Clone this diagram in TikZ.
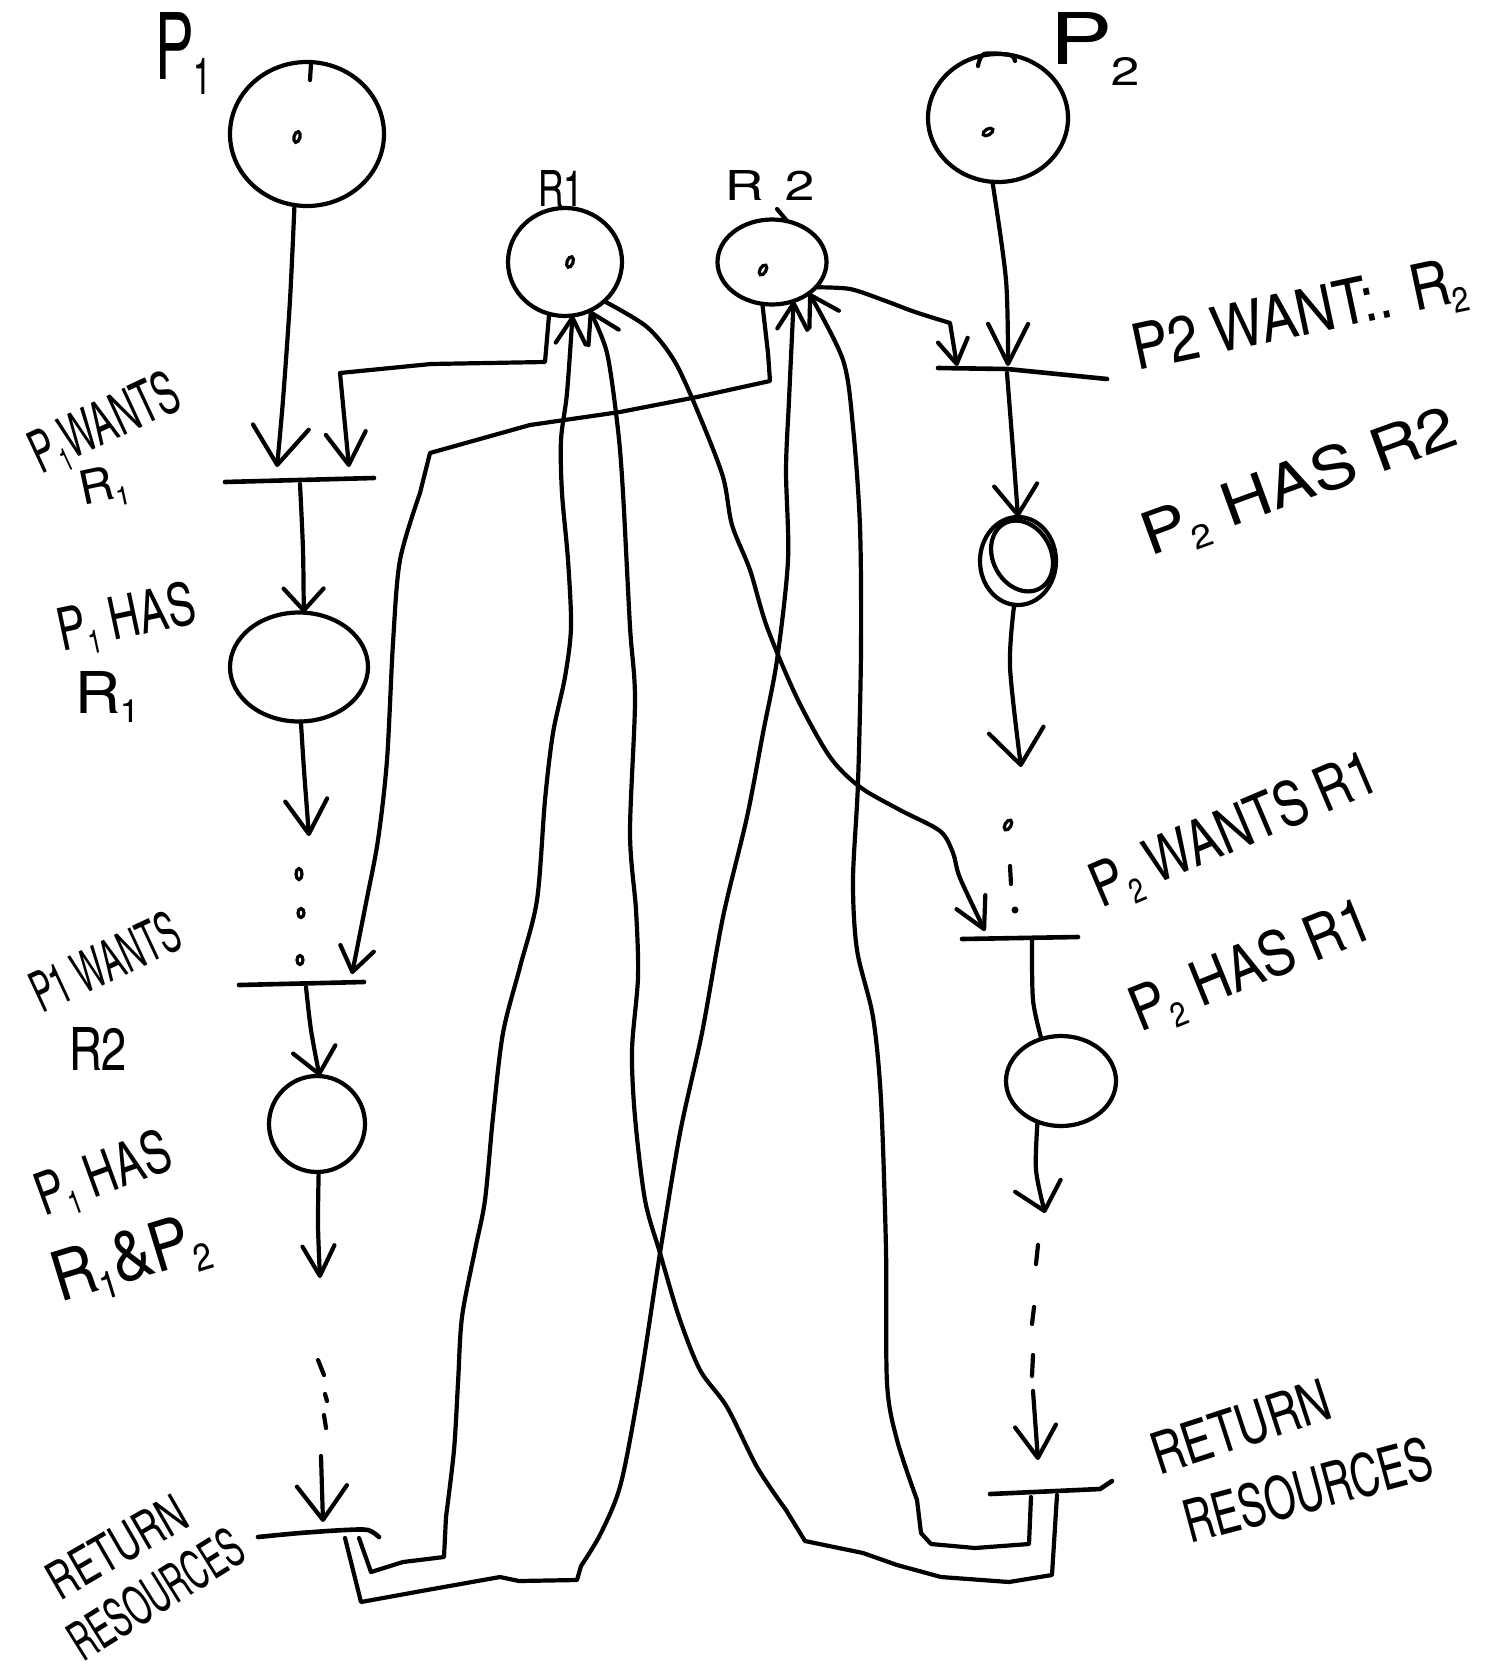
\documentclass[tikz,border=0pt]{standalone}
\usepackage{fontspec}
\setmainfont{texgyreheroscn-regular.otf}
\usepackage{graphicx}
\usetikzlibrary{arrows.meta,shapes.geometric}

% lowered small index, as in P_1
\newcommand\lowsub[1]{\raisebox{-0.16em}{\fontsize{22}{24}\selectfont #1}}
% a hand-lettered word: width, cap height, text
\newcommand\hand[3]{\resizebox{#1pt}{#2pt}{\fontsize{40}{44}\selectfont #3}}

\tikzset{
  ink/.style={line width=4.2pt, line cap=round, line join=round},
  place/.style={ellipse, draw, ink, inner sep=0pt, outer sep=0pt},
  token/.style={ellipse, draw, line width=3.2pt, inner sep=0pt, minimum width=6pt, minimum height=11pt},
  bar/.style={line width=4.6pt, line cap=round, line join=round},
  vtip/.style 2 args={-{Straight Barb[length=#1pt, width=#2pt, round]}},
  lbl/.style={inner sep=0pt, outer sep=0pt},
}

\begin{document}
\begin{tikzpicture}[x=1pt,y=-1pt]
\fill[white] (0,0) rectangle (1488,1670);
\useasboundingbox (0,0) rectangle (1488,1670);

% ---------- places ----------
\node[place, minimum width=154pt, minimum height=144pt] (p1) at (307,134) {};
\node[place, minimum width=114pt, minimum height=108pt] (r1) at (565,262) {};
\node[place, minimum width=109pt, minimum height=85pt] (r2) at (772,262) {};
\node[place, minimum width=140pt, minimum height=128pt] (p2) at (998,118) {};
\node[place, minimum width=138pt, minimum height=109pt] (a1) at (299,667) {};
\node[place, minimum width=96pt, minimum height=96pt] (a2) at (317,1124) {};
\node[place, minimum width=76pt, minimum height=88pt] (b1) at (1018,561) {};
\node[place, minimum width=58pt, minimum height=74pt, rotate=28] (b1loop) at (1022,556) {};
\node[place, minimum width=110pt, minimum height=90pt] (b2) at (1061,1081) {};

% stroke overlaps on the place outlines
\draw[ink] plot[smooth] coordinates {(978,66) (984,54) (1010,55) (1015,61)};
\draw[ink] (777,209) -- (787,221);
\draw[ink] (311,64) -- (310,80);

% ---------- tokens and marks ----------
\node[token, rotate=-15] (p1tok) at (297,137) {};
\node[token, rotate=-20] (r1tok) at (570,262) {};
\node[token, rotate=-30] (r2tok) at (763,270) {};
\node[token, rotate=-60] (p2tok) at (988,132) {};
\node[token] (m1) at (299,874) {};
\node[token, minimum height=9pt] (m2) at (301,913) {};
\node[token, minimum height=9pt] (m3) at (300,960) {};
\node[token, rotate=-30] (m4) at (1008,825) {};
\draw[ink] (1010,866) -- (1011,884);
\node[fill, circle, inner sep=0pt, minimum size=7pt] (m5) at (1015,910) {};

\draw[ink] (318,1360) -- (324,1375);
\draw[ink] (325,1394) -- (327,1401);
\draw[ink] (324,1415) -- (326,1428);
\draw[ink] (1038,1245) -- (1036,1264);
\draw[ink] (1034,1307) -- (1032,1324);
\draw[ink] (1033,1355) -- (1032,1376);

% ---------- transitions ----------
\coordinate (t1w) at (225,482); \coordinate (t1e) at (374,478);
\coordinate (t5w) at (239,985); \coordinate (t5e) at (364,982);
\coordinate (t6w) at (258,1537); \coordinate (t6e) at (379,1537);
\coordinate (t2w) at (938,368); \coordinate (t2e) at (1107,379);
\coordinate (t3w) at (962,939); \coordinate (t3e) at (1078,937);
\coordinate (t4w) at (990,1494); \coordinate (t4e) at (1112,1481);
\draw[bar] (t1w) -- (t1e);
\draw[bar] (t5w) -- (t5e);
\draw[bar] plot[smooth] coordinates {(t6w) (300,1533) (345,1530) (368,1530) (t6e)};
\draw[bar] (t2w) -- (1007,369) -- (t2e);
\draw[bar] (t3w) -- (t3e);
\draw[bar] (t4w) -- (1100,1489) -- (t4e);

% arc ends at the transitions
\coordinate (t1in1) at (277,467);
\coordinate (t1in2) at (349,467);
\coordinate (t1out) at (300,484);
\coordinate (d1) at (309,836);
\coordinate (t5in) at (352,974);
\coordinate (t5out) at (306,987);
\coordinate (d2) at (320,1278);
\coordinate (d2b) at (321,1456);
\coordinate (t6in) at (323,1522);
\coordinate (t6o1) at (359,1538);
\coordinate (t6o2) at (345,1538);
\coordinate (t2in1) at (957,366);
\coordinate (t2in2) at (1008,366);
\coordinate (t2out) at (1007,373);
\coordinate (d3) at (1021,767);
\coordinate (t3in) at (985,931);
\coordinate (t3out) at (1032,940);
\coordinate (d4) at (1045,1213);
\coordinate (d4b) at (1033,1391);
\coordinate (t4in) at (1038,1460);
\coordinate (t4o1) at (1031,1497);
\coordinate (t4o2) at (1057,1495);

% ---------- arcs of process P1 ----------
\draw[ink, vtip={38}{56}] plot[smooth] coordinates {(p1.-100) (290,300) (283,400) (t1in1)};
\draw[ink, vtip={32}{40}] (r1.-107) -- (545,362) -- (431,364) -- (340,373) -- (t1in2);
\draw[ink, vtip={22}{40}] plot[smooth] coordinates {(t1out) (303,550) (a1.85)};
\draw[ink, vtip={34}{42}] plot[smooth] coordinates {(a1.-88) (304,770) (d1)};
\draw[ink, vtip={24}{34}] (r2.-103) -- (768,353) -- (770,381) -- (697,397) -- (620,412) -- (530,425) -- (430,453)
  -- plot[smooth] coordinates {(420,493) (400,560) (393,643) (387,760) (378,840) (366,903) (t5in)};
\draw[ink, vtip={25}{43}] plot[smooth] coordinates {(t5out) (311,1030) (a2.87)};
\draw[ink, vtip={30}{32}] plot[smooth] coordinates {(a2.-88) (318,1225) (d2)};
\draw[ink, vtip={34}{50}] (d2b) -- (t6in);

% P1 returns R1 and R2
\draw[ink, vtip={26}{30}] (t6o1) -- (371,1572) -- (403,1562) -- (444,1557)
  -- plot[smooth] coordinates {(446,1517) (454,1450) (458,1383) (462,1317) (475,1250) (485,1200) (493,1117) (503,1033) (520,967) (537,900) (545,800) (553,733) (565,677) (571,627) (568,560) (562,493) (561,440) (567,393) (r1.-82)};
\draw[ink, vtip={26}{30}] (t6o2) -- (361,1602) -- (427,1590) -- (500,1577) -- (519,1581) -- (577,1580)
  -- plot[smooth] coordinates {(581,1566) (601,1533) (621,1483) (640,1383) (660,1253) (680,1133) (702,1033) (723,917) (747,817) (763,733) (777,660) (788,560) (786,470) (789,400) (r2.-61)};

% ---------- arcs of process P2 ----------
\draw[ink, vtip={40}{40}] plot[smooth] coordinates {(p2.-95) (1006,280) (t2in2)};
\draw[ink, vtip={24}{30}] plot[smooth] coordinates {(r2.-30) (850,289) (883,300) (915,312) (950,323)} -- (t2in1);
\draw[ink, vtip={30}{43}] plot[smooth] coordinates {(t2out) (1013,450) (b1.north)};
\draw[ink, vtip={35}{55}] plot[smooth] coordinates {(b1.-95) (1010,667) (d3)};
\draw[ink, vtip={30}{32}] plot[smooth] coordinates {(r1.-45) (647,327) (675,362) (700,417) (723,477) (732,525) (750,570) (767,627) (797,698) (830,757) (860,787) (900,810) (940,831) (953,853) (960,878) (t3in)};
\draw[ink] plot[smooth] coordinates {(t3out) (1033,1000) (b2.115)};
\draw[ink, vtip={26}{47}] plot[smooth] coordinates {(b2.-120) (1036,1170) (d4)};
\draw[ink, vtip={32}{41}] (d4b) -- (t4in);

% P2 returns R1 and R2
\draw[ink, vtip={28}{34}] (t4o2) -- (1052,1575) -- (1009,1582) -- (941,1577) -- (897,1565) -- (863,1553) -- (805,1541)
  -- plot[smooth] coordinates {(786,1510) (757,1467) (727,1407) (700,1370) (679,1317) (660,1253) (645,1200) (635,1117) (632,1050) (638,977) (636,910) (630,833) (635,700) (630,627) (623,493) (618,430) (607,353) (r1.-63)};
\draw[ink, vtip={28}{34}] (t4o1) -- (1029,1544) -- (975,1548) -- (931,1544) -- (921,1533)
  -- plot[smooth] coordinates {(917,1500) (897,1440) (887,1383) (886,1250) (881,1100) (873,1017) (857,950) (853,880) (858,783) (861,650) (860,527) (853,427) (843,360) (r2.-40)};

% ---------- labels ----------
\node[lbl, anchor=base west] (lp1) at (155,80) {\hand{56}{67}{P\lowsub{1}}};
\node[lbl, anchor=base west] (lp2) at (1050,64) {\hand{90}{52}{P\raisebox{-0.3em}{\fontsize{22}{24}\selectfont 2}}};
\node[lbl, anchor=base west] (lr1) at (538,206) {\hand{45}{36}{R1}};
\node[lbl, anchor=base west] (lr2) at (725,200) {\hand{90}{30}{R\hspace{0.35em}2}};

\node[lbl, rotate=25] (l1a) at (106,425) {\hand{158}{44}{P\lowsub{1}WANTS}};
\node[lbl, rotate=12] (l1b) at (104,488) {\hand{48}{34}{R\lowsub{1}}};
\node[lbl, rotate=12] (l2a) at (127,620) {\hand{140}{44}{P\lowsub{1} HAS}};
\node[lbl] (l2b) at (107,697) {\hand{64}{42}{R\lowsub{1}}};
\node[lbl, rotate=25] (l3a) at (105,962) {\hand{158}{42}{P1 WANTS}};
\node[lbl] (l3b) at (98,1049) {\hand{58}{43}{R2}};
\node[lbl, rotate=20] (l4a) at (104,1176) {\hand{140}{44}{P\lowsub{1} HAS}};
\node[lbl, rotate=17] (l4b) at (131,1261) {\hand{160}{50}{R\lowsub{1}\&P\lowsub{2}}};
\node[lbl, rotate=30] (l5a) at (117,1547) {\hand{152}{38}{RETURN}};
\node[lbl, rotate=32] (l5b) at (156,1594) {\hand{196}{40}{RESOURCES}};

\node[lbl, rotate=12] (l6) at (1300,318) {\hand{340}{46}{P2 WANT:. R\lowsub{2}}};
\node[lbl, rotate=20] (l7) at (1300,484) {\hand{330}{44}{P\lowsub{2} HAS R2}};
\node[lbl, rotate=23] (l8) at (1235,832) {\hand{305}{46}{P\lowsub{2} WANTS R1}};
\node[lbl, rotate=22] (l9) at (1252,968) {\hand{255}{46}{P\lowsub{2} HAS R1}};
\node[lbl, rotate=18] (l10a) at (1241,1427) {\hand{185}{42}{RETURN}};
\node[lbl, rotate=15] (l10b) at (1308,1490) {\hand{255}{44}{RESOURCES}};
\end{tikzpicture}
\end{document}
